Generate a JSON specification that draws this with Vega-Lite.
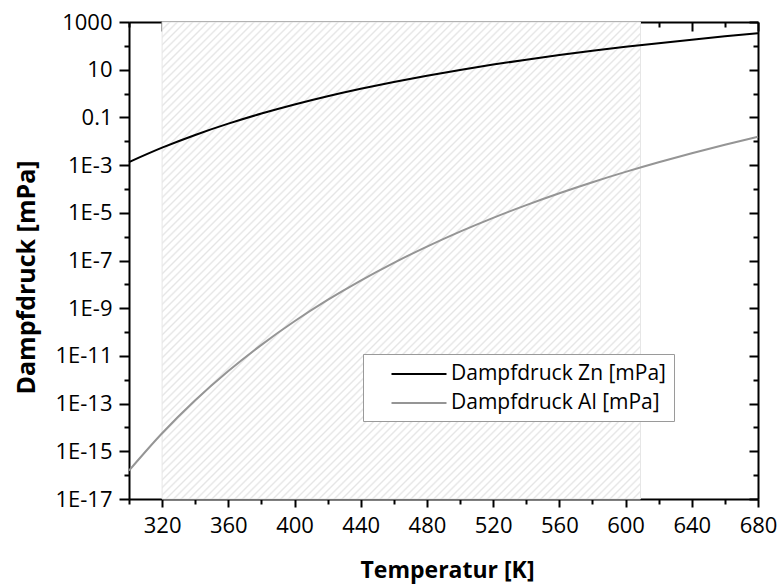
{
"$schema":"https://vega.github.io/schema/vega-lite/v6.json",
"width":629,"height":477,
"autosize":{"type":"none"},
"padding":{"left":129,"top":22,"right":20,"bottom":85},
"background":"white",
"config":{"font":"Open Sans","view":{"stroke":null},
 "axis":{"domainColor":"black","tickColor":"black","labelColor":"black","titleColor":"black","domainWidth":2,"tickWidth":2,"grid":false,"zindex":1,"labelFontSize":22,"titleFontSize":23,"titleFontWeight":"bold","labelFont":"Open Sans","titleFont":"Open Sans","labelFlush":false,"labelOverlap":false},
 "legend":{"orient":"none","legendX":234,"legendY":332,"strokeColor":"#9a9a9a","fillColor":"white","padding":8,"labelFontSize":21,"labelFont":"Open Sans","labelColor":"black","labelLimit":400,"symbolType":"M-2.5,0H2.5","symbolSize":484,"symbolStrokeWidth":2,"symbolOffset":36,"labelOffset":20,"rowPadding":7}
},
"datasets":{
 "region":[{"t1":320,"t2":609,"p1":1e-17,"p2":1000}],
 "curves":[
  {"T":300,"p":0.00134,"s":"Dampfdruck Zn [mPa]"},
  {"T":320,"p":0.005383,"s":"Dampfdruck Zn [mPa]"},
  {"T":340,"p":0.01837,"s":"Dampfdruck Zn [mPa]"},
  {"T":360,"p":0.05458,"s":"Dampfdruck Zn [mPa]"},
  {"T":380,"p":0.1449,"s":"Dampfdruck Zn [mPa]"},
  {"T":400,"p":0.3487,"s":"Dampfdruck Zn [mPa]"},
  {"T":420,"p":0.7727,"s":"Dampfdruck Zn [mPa]"},
  {"T":440,"p":1.589,"s":"Dampfdruck Zn [mPa]"},
  {"T":460,"p":3.076,"s":"Dampfdruck Zn [mPa]"},
  {"T":480,"p":5.623,"s":"Dampfdruck Zn [mPa]"},
  {"T":500,"p":9.817,"s":"Dampfdruck Zn [mPa]"},
  {"T":520,"p":16.41,"s":"Dampfdruck Zn [mPa]"},
  {"T":540,"p":26.36,"s":"Dampfdruck Zn [mPa]"},
  {"T":560,"p":41.02,"s":"Dampfdruck Zn [mPa]"},
  {"T":580,"p":61.94,"s":"Dampfdruck Zn [mPa]"},
  {"T":600,"p":90.78,"s":"Dampfdruck Zn [mPa]"},
  {"T":620,"p":130.0,"s":"Dampfdruck Zn [mPa]"},
  {"T":640,"p":182.0,"s":"Dampfdruck Zn [mPa]"},
  {"T":660,"p":250.0,"s":"Dampfdruck Zn [mPa]"},
  {"T":680,"p":336.5,"s":"Dampfdruck Zn [mPa]"},
  {"T":300,"p":1.549e-16,"s":"Dampfdruck Al [mPa]"},
  {"T":320,"p":5.70e-15,"s":"Dampfdruck Al [mPa]"},
  {"T":340,"p":1.371e-13,"s":"Dampfdruck Al [mPa]"},
  {"T":360,"p":2.317e-12,"s":"Dampfdruck Al [mPa]"},
  {"T":380,"p":2.911e-11,"s":"Dampfdruck Al [mPa]"},
  {"T":400,"p":2.835e-10,"s":"Dampfdruck Al [mPa]"},
  {"T":420,"p":2.223e-9,"s":"Dampfdruck Al [mPa]"},
  {"T":440,"p":1.445e-8,"s":"Dampfdruck Al [mPa]"},
  {"T":460,"p":8.0e-8,"s":"Dampfdruck Al [mPa]"},
  {"T":480,"p":3.837e-7,"s":"Dampfdruck Al [mPa]"},
  {"T":500,"p":1.622e-6,"s":"Dampfdruck Al [mPa]"},
  {"T":520,"p":6.138e-6,"s":"Dampfdruck Al [mPa]"},
  {"T":540,"p":2.104e-5,"s":"Dampfdruck Al [mPa]"},
  {"T":560,"p":6.607e-5,"s":"Dampfdruck Al [mPa]"},
  {"T":580,"p":1.919e-4,"s":"Dampfdruck Al [mPa]"},
  {"T":600,"p":5.188e-4,"s":"Dampfdruck Al [mPa]"},
  {"T":620,"p":1.315e-3,"s":"Dampfdruck Al [mPa]"},
  {"T":640,"p":3.148e-3,"s":"Dampfdruck Al [mPa]"},
  {"T":660,"p":7.145e-3,"s":"Dampfdruck Al [mPa]"},
  {"T":680,"p":1.545e-2,"s":"Dampfdruck Al [mPa]"}
 ]
},
"layer":[
 {"data":{"name":"region"},
  "mark":{"type":"rect","fill":{"gradient":"linear","x1":0,"y1":0,"x2":1,"y2":1,"stops":[
{"offset":0,"color":"#e5e5e5"},{"offset":0.002,"color":"#fff"},{"offset":0.006,"color":"#fff"},
{"offset":0.008,"color":"#e5e5e5"},{"offset":0.01,"color":"#fff"},{"offset":0.014,"color":"#fff"},
{"offset":0.016,"color":"#e5e5e5"},{"offset":0.018,"color":"#fff"},{"offset":0.022,"color":"#fff"},
{"offset":0.024,"color":"#e5e5e5"},{"offset":0.026,"color":"#fff"},{"offset":0.03,"color":"#fff"},
{"offset":0.032,"color":"#e5e5e5"},{"offset":0.034,"color":"#fff"},{"offset":0.038,"color":"#fff"},
{"offset":0.04,"color":"#e5e5e5"},{"offset":0.042,"color":"#fff"},{"offset":0.046,"color":"#fff"},
{"offset":0.048,"color":"#e5e5e5"},{"offset":0.05,"color":"#fff"},{"offset":0.054,"color":"#fff"},
{"offset":0.056,"color":"#e5e5e5"},{"offset":0.058,"color":"#fff"},{"offset":0.062,"color":"#fff"},
{"offset":0.064,"color":"#e5e5e5"},{"offset":0.066,"color":"#fff"},{"offset":0.07,"color":"#fff"},
{"offset":0.072,"color":"#e5e5e5"},{"offset":0.074,"color":"#fff"},{"offset":0.078,"color":"#fff"},
{"offset":0.08,"color":"#e5e5e5"},{"offset":0.082,"color":"#fff"},{"offset":0.086,"color":"#fff"},
{"offset":0.088,"color":"#e5e5e5"},{"offset":0.09,"color":"#fff"},{"offset":0.094,"color":"#fff"},
{"offset":0.096,"color":"#e5e5e5"},{"offset":0.098,"color":"#fff"},{"offset":0.102,"color":"#fff"},
{"offset":0.104,"color":"#e5e5e5"},{"offset":0.106,"color":"#fff"},{"offset":0.11,"color":"#fff"},
{"offset":0.112,"color":"#e5e5e5"},{"offset":0.114,"color":"#fff"},{"offset":0.118,"color":"#fff"},
{"offset":0.12,"color":"#e5e5e5"},{"offset":0.122,"color":"#fff"},{"offset":0.126,"color":"#fff"},
{"offset":0.128,"color":"#e5e5e5"},{"offset":0.13,"color":"#fff"},{"offset":0.134,"color":"#fff"},
{"offset":0.136,"color":"#e5e5e5"},{"offset":0.138,"color":"#fff"},{"offset":0.142,"color":"#fff"},
{"offset":0.144,"color":"#e5e5e5"},{"offset":0.146,"color":"#fff"},{"offset":0.15,"color":"#fff"},
{"offset":0.152,"color":"#e5e5e5"},{"offset":0.154,"color":"#fff"},{"offset":0.158,"color":"#fff"},
{"offset":0.16,"color":"#e5e5e5"},{"offset":0.162,"color":"#fff"},{"offset":0.166,"color":"#fff"},
{"offset":0.168,"color":"#e5e5e5"},{"offset":0.17,"color":"#fff"},{"offset":0.174,"color":"#fff"},
{"offset":0.176,"color":"#e5e5e5"},{"offset":0.178,"color":"#fff"},{"offset":0.182,"color":"#fff"},
{"offset":0.184,"color":"#e5e5e5"},{"offset":0.186,"color":"#fff"},{"offset":0.19,"color":"#fff"},
{"offset":0.192,"color":"#e5e5e5"},{"offset":0.194,"color":"#fff"},{"offset":0.198,"color":"#fff"},
{"offset":0.2,"color":"#e5e5e5"},{"offset":0.202,"color":"#fff"},{"offset":0.206,"color":"#fff"},
{"offset":0.208,"color":"#e5e5e5"},{"offset":0.21,"color":"#fff"},{"offset":0.214,"color":"#fff"},
{"offset":0.216,"color":"#e5e5e5"},{"offset":0.218,"color":"#fff"},{"offset":0.222,"color":"#fff"},
{"offset":0.224,"color":"#e5e5e5"},{"offset":0.226,"color":"#fff"},{"offset":0.23,"color":"#fff"},
{"offset":0.232,"color":"#e5e5e5"},{"offset":0.234,"color":"#fff"},{"offset":0.238,"color":"#fff"},
{"offset":0.24,"color":"#e5e5e5"},{"offset":0.242,"color":"#fff"},{"offset":0.246,"color":"#fff"},
{"offset":0.248,"color":"#e5e5e5"},{"offset":0.25,"color":"#fff"},{"offset":0.254,"color":"#fff"},
{"offset":0.256,"color":"#e5e5e5"},{"offset":0.258,"color":"#fff"},{"offset":0.262,"color":"#fff"},
{"offset":0.264,"color":"#e5e5e5"},{"offset":0.266,"color":"#fff"},{"offset":0.27,"color":"#fff"},
{"offset":0.272,"color":"#e5e5e5"},{"offset":0.274,"color":"#fff"},{"offset":0.278,"color":"#fff"},
{"offset":0.28,"color":"#e5e5e5"},{"offset":0.282,"color":"#fff"},{"offset":0.286,"color":"#fff"},
{"offset":0.288,"color":"#e5e5e5"},{"offset":0.29,"color":"#fff"},{"offset":0.294,"color":"#fff"},
{"offset":0.296,"color":"#e5e5e5"},{"offset":0.298,"color":"#fff"},{"offset":0.302,"color":"#fff"},
{"offset":0.304,"color":"#e5e5e5"},{"offset":0.306,"color":"#fff"},{"offset":0.31,"color":"#fff"},
{"offset":0.312,"color":"#e5e5e5"},{"offset":0.314,"color":"#fff"},{"offset":0.318,"color":"#fff"},
{"offset":0.32,"color":"#e5e5e5"},{"offset":0.322,"color":"#fff"},{"offset":0.326,"color":"#fff"},
{"offset":0.328,"color":"#e5e5e5"},{"offset":0.33,"color":"#fff"},{"offset":0.334,"color":"#fff"},
{"offset":0.336,"color":"#e5e5e5"},{"offset":0.338,"color":"#fff"},{"offset":0.342,"color":"#fff"},
{"offset":0.344,"color":"#e5e5e5"},{"offset":0.346,"color":"#fff"},{"offset":0.35,"color":"#fff"},
{"offset":0.352,"color":"#e5e5e5"},{"offset":0.354,"color":"#fff"},{"offset":0.358,"color":"#fff"},
{"offset":0.36,"color":"#e5e5e5"},{"offset":0.362,"color":"#fff"},{"offset":0.366,"color":"#fff"},
{"offset":0.368,"color":"#e5e5e5"},{"offset":0.37,"color":"#fff"},{"offset":0.374,"color":"#fff"},
{"offset":0.376,"color":"#e5e5e5"},{"offset":0.378,"color":"#fff"},{"offset":0.382,"color":"#fff"},
{"offset":0.384,"color":"#e5e5e5"},{"offset":0.386,"color":"#fff"},{"offset":0.39,"color":"#fff"},
{"offset":0.392,"color":"#e5e5e5"},{"offset":0.394,"color":"#fff"},{"offset":0.398,"color":"#fff"},
{"offset":0.4,"color":"#e5e5e5"},{"offset":0.402,"color":"#fff"},{"offset":0.406,"color":"#fff"},
{"offset":0.408,"color":"#e5e5e5"},{"offset":0.41,"color":"#fff"},{"offset":0.414,"color":"#fff"},
{"offset":0.416,"color":"#e5e5e5"},{"offset":0.418,"color":"#fff"},{"offset":0.422,"color":"#fff"},
{"offset":0.424,"color":"#e5e5e5"},{"offset":0.426,"color":"#fff"},{"offset":0.43,"color":"#fff"},
{"offset":0.432,"color":"#e5e5e5"},{"offset":0.434,"color":"#fff"},{"offset":0.438,"color":"#fff"},
{"offset":0.44,"color":"#e5e5e5"},{"offset":0.442,"color":"#fff"},{"offset":0.446,"color":"#fff"},
{"offset":0.448,"color":"#e5e5e5"},{"offset":0.45,"color":"#fff"},{"offset":0.454,"color":"#fff"},
{"offset":0.456,"color":"#e5e5e5"},{"offset":0.458,"color":"#fff"},{"offset":0.462,"color":"#fff"},
{"offset":0.464,"color":"#e5e5e5"},{"offset":0.466,"color":"#fff"},{"offset":0.47,"color":"#fff"},
{"offset":0.472,"color":"#e5e5e5"},{"offset":0.474,"color":"#fff"},{"offset":0.478,"color":"#fff"},
{"offset":0.48,"color":"#e5e5e5"},{"offset":0.482,"color":"#fff"},{"offset":0.486,"color":"#fff"},
{"offset":0.488,"color":"#e5e5e5"},{"offset":0.49,"color":"#fff"},{"offset":0.494,"color":"#fff"},
{"offset":0.496,"color":"#e5e5e5"},{"offset":0.498,"color":"#fff"},{"offset":0.502,"color":"#fff"},
{"offset":0.504,"color":"#e5e5e5"},{"offset":0.506,"color":"#fff"},{"offset":0.51,"color":"#fff"},
{"offset":0.512,"color":"#e5e5e5"},{"offset":0.514,"color":"#fff"},{"offset":0.518,"color":"#fff"},
{"offset":0.52,"color":"#e5e5e5"},{"offset":0.522,"color":"#fff"},{"offset":0.526,"color":"#fff"},
{"offset":0.528,"color":"#e5e5e5"},{"offset":0.53,"color":"#fff"},{"offset":0.534,"color":"#fff"},
{"offset":0.536,"color":"#e5e5e5"},{"offset":0.538,"color":"#fff"},{"offset":0.542,"color":"#fff"},
{"offset":0.544,"color":"#e5e5e5"},{"offset":0.546,"color":"#fff"},{"offset":0.55,"color":"#fff"},
{"offset":0.552,"color":"#e5e5e5"},{"offset":0.554,"color":"#fff"},{"offset":0.558,"color":"#fff"},
{"offset":0.56,"color":"#e5e5e5"},{"offset":0.562,"color":"#fff"},{"offset":0.566,"color":"#fff"},
{"offset":0.568,"color":"#e5e5e5"},{"offset":0.57,"color":"#fff"},{"offset":0.574,"color":"#fff"},
{"offset":0.576,"color":"#e5e5e5"},{"offset":0.578,"color":"#fff"},{"offset":0.582,"color":"#fff"},
{"offset":0.584,"color":"#e5e5e5"},{"offset":0.586,"color":"#fff"},{"offset":0.59,"color":"#fff"},
{"offset":0.592,"color":"#e5e5e5"},{"offset":0.594,"color":"#fff"},{"offset":0.598,"color":"#fff"},
{"offset":0.6,"color":"#e5e5e5"},{"offset":0.602,"color":"#fff"},{"offset":0.606,"color":"#fff"},
{"offset":0.608,"color":"#e5e5e5"},{"offset":0.61,"color":"#fff"},{"offset":0.614,"color":"#fff"},
{"offset":0.616,"color":"#e5e5e5"},{"offset":0.618,"color":"#fff"},{"offset":0.622,"color":"#fff"},
{"offset":0.624,"color":"#e5e5e5"},{"offset":0.626,"color":"#fff"},{"offset":0.63,"color":"#fff"},
{"offset":0.632,"color":"#e5e5e5"},{"offset":0.634,"color":"#fff"},{"offset":0.638,"color":"#fff"},
{"offset":0.64,"color":"#e5e5e5"},{"offset":0.642,"color":"#fff"},{"offset":0.646,"color":"#fff"},
{"offset":0.648,"color":"#e5e5e5"},{"offset":0.65,"color":"#fff"},{"offset":0.654,"color":"#fff"},
{"offset":0.656,"color":"#e5e5e5"},{"offset":0.658,"color":"#fff"},{"offset":0.662,"color":"#fff"},
{"offset":0.664,"color":"#e5e5e5"},{"offset":0.666,"color":"#fff"},{"offset":0.67,"color":"#fff"},
{"offset":0.672,"color":"#e5e5e5"},{"offset":0.674,"color":"#fff"},{"offset":0.678,"color":"#fff"},
{"offset":0.68,"color":"#e5e5e5"},{"offset":0.682,"color":"#fff"},{"offset":0.686,"color":"#fff"},
{"offset":0.688,"color":"#e5e5e5"},{"offset":0.69,"color":"#fff"},{"offset":0.694,"color":"#fff"},
{"offset":0.696,"color":"#e5e5e5"},{"offset":0.698,"color":"#fff"},{"offset":0.702,"color":"#fff"},
{"offset":0.704,"color":"#e5e5e5"},{"offset":0.706,"color":"#fff"},{"offset":0.71,"color":"#fff"},
{"offset":0.712,"color":"#e5e5e5"},{"offset":0.714,"color":"#fff"},{"offset":0.718,"color":"#fff"},
{"offset":0.72,"color":"#e5e5e5"},{"offset":0.722,"color":"#fff"},{"offset":0.726,"color":"#fff"},
{"offset":0.728,"color":"#e5e5e5"},{"offset":0.73,"color":"#fff"},{"offset":0.734,"color":"#fff"},
{"offset":0.736,"color":"#e5e5e5"},{"offset":0.738,"color":"#fff"},{"offset":0.742,"color":"#fff"},
{"offset":0.744,"color":"#e5e5e5"},{"offset":0.746,"color":"#fff"},{"offset":0.75,"color":"#fff"},
{"offset":0.752,"color":"#e5e5e5"},{"offset":0.754,"color":"#fff"},{"offset":0.758,"color":"#fff"},
{"offset":0.76,"color":"#e5e5e5"},{"offset":0.762,"color":"#fff"},{"offset":0.766,"color":"#fff"},
{"offset":0.768,"color":"#e5e5e5"},{"offset":0.77,"color":"#fff"},{"offset":0.774,"color":"#fff"},
{"offset":0.776,"color":"#e5e5e5"},{"offset":0.778,"color":"#fff"},{"offset":0.782,"color":"#fff"},
{"offset":0.784,"color":"#e5e5e5"},{"offset":0.786,"color":"#fff"},{"offset":0.79,"color":"#fff"},
{"offset":0.792,"color":"#e5e5e5"},{"offset":0.794,"color":"#fff"},{"offset":0.798,"color":"#fff"},
{"offset":0.8,"color":"#e5e5e5"},{"offset":0.802,"color":"#fff"},{"offset":0.806,"color":"#fff"},
{"offset":0.808,"color":"#e5e5e5"},{"offset":0.81,"color":"#fff"},{"offset":0.814,"color":"#fff"},
{"offset":0.816,"color":"#e5e5e5"},{"offset":0.818,"color":"#fff"},{"offset":0.822,"color":"#fff"},
{"offset":0.824,"color":"#e5e5e5"},{"offset":0.826,"color":"#fff"},{"offset":0.83,"color":"#fff"},
{"offset":0.832,"color":"#e5e5e5"},{"offset":0.834,"color":"#fff"},{"offset":0.838,"color":"#fff"},
{"offset":0.84,"color":"#e5e5e5"},{"offset":0.842,"color":"#fff"},{"offset":0.846,"color":"#fff"},
{"offset":0.848,"color":"#e5e5e5"},{"offset":0.85,"color":"#fff"},{"offset":0.854,"color":"#fff"},
{"offset":0.856,"color":"#e5e5e5"},{"offset":0.858,"color":"#fff"},{"offset":0.862,"color":"#fff"},
{"offset":0.864,"color":"#e5e5e5"},{"offset":0.866,"color":"#fff"},{"offset":0.87,"color":"#fff"},
{"offset":0.872,"color":"#e5e5e5"},{"offset":0.874,"color":"#fff"},{"offset":0.878,"color":"#fff"},
{"offset":0.88,"color":"#e5e5e5"},{"offset":0.882,"color":"#fff"},{"offset":0.886,"color":"#fff"},
{"offset":0.888,"color":"#e5e5e5"},{"offset":0.89,"color":"#fff"},{"offset":0.894,"color":"#fff"},
{"offset":0.896,"color":"#e5e5e5"},{"offset":0.898,"color":"#fff"},{"offset":0.902,"color":"#fff"},
{"offset":0.904,"color":"#e5e5e5"},{"offset":0.906,"color":"#fff"},{"offset":0.91,"color":"#fff"},
{"offset":0.912,"color":"#e5e5e5"},{"offset":0.914,"color":"#fff"},{"offset":0.918,"color":"#fff"},
{"offset":0.92,"color":"#e5e5e5"},{"offset":0.922,"color":"#fff"},{"offset":0.926,"color":"#fff"},
{"offset":0.928,"color":"#e5e5e5"},{"offset":0.93,"color":"#fff"},{"offset":0.934,"color":"#fff"},
{"offset":0.936,"color":"#e5e5e5"},{"offset":0.938,"color":"#fff"},{"offset":0.942,"color":"#fff"},
{"offset":0.944,"color":"#e5e5e5"},{"offset":0.946,"color":"#fff"},{"offset":0.95,"color":"#fff"},
{"offset":0.952,"color":"#e5e5e5"},{"offset":0.954,"color":"#fff"},{"offset":0.958,"color":"#fff"},
{"offset":0.96,"color":"#e5e5e5"},{"offset":0.962,"color":"#fff"},{"offset":0.966,"color":"#fff"},
{"offset":0.968,"color":"#e5e5e5"},{"offset":0.97,"color":"#fff"},{"offset":0.974,"color":"#fff"},
{"offset":0.976,"color":"#e5e5e5"},{"offset":0.978,"color":"#fff"},{"offset":0.982,"color":"#fff"},
{"offset":0.984,"color":"#e5e5e5"},{"offset":0.986,"color":"#fff"},{"offset":0.99,"color":"#fff"},
{"offset":0.992,"color":"#e5e5e5"},{"offset":0.994,"color":"#fff"},{"offset":0.998,"color":"#fff"},
{"offset":1,"color":"#e5e5e5"}
  ]}},
  "encoding":{
   "x":{"field":"t1","type":"quantitative","scale":{"domain":[300,680],"nice":false,"zero":false},
    "axis":{"orient":"bottom","values":[320,360,400,440,480,520,560,600,640,680],"tickSize":8,"labelPadding":8,"title":"Temperatur [K]","titleY":78,"titleBaseline":"alphabetic","titleX":318}},
   "x2":{"field":"t2"},
   "y":{"field":"p1","type":"quantitative","scale":{"type":"log","domain":[1e-17,1000],"nice":false},
    "axis":{"orient":"left","values":[1000,10,0.1,0.001,1e-5,1e-7,1e-9,1e-11,1e-13,1e-15,1e-17],"tickSize":10,"labelPadding":7,
     "labelExpr":"datum.value >= 1 ? format(datum.value, 'd') : datum.value > 0.05 ? '0.1' : '1E' + round(log(datum.value) / LN10)",
     "title":"Dampfdruck [mPa]","titleFontSize":25,"titleX":-103,"titleY":255,"titleBaseline":"middle","titleAngle":270}},
   "y2":{"field":"p2"}
  }},
 {"data":{"name":"region"},
  "mark":{"type":"rect","fill":null,"fillOpacity":0,"stroke":"#e6e6e6","strokeWidth":1},
  "encoding":{
   "x":{"field":"t1","type":"quantitative","scale":{"domain":[300,680],"nice":false,"zero":false},
    "axis":{"orient":"bottom","values":[300,340,380,420,460,500,540,580,620,660],"tickSize":5,"labels":false,"domain":false,"title":null}},
   "x2":{"field":"t2"},
   "y":{"field":"p1","type":"quantitative","scale":{"type":"log","domain":[1e-17,1000],"nice":false},
    "axis":{"orient":"left","values":[100,1,0.01,1e-4,1e-6,1e-8,1e-10,1e-12,1e-14,1e-16],"tickSize":5,"labels":false,"domain":false,"title":null}},
   "y2":{"field":"p2"}
  }},
 {"data":{"name":"curves"},
  "transform":[{"filter":"datum.s === 'Dampfdruck Zn [mPa]'"}],
  "mark":{"type":"line","strokeWidth":2,"interpolate":"monotone"},
  "encoding":{
   "x":{"field":"T","type":"quantitative","scale":{"domain":[300,680],"nice":false,"zero":false},
    "axis":{"orient":"top","values":[320,360,400,440,480,520,560,600,640,680],"tickSize":-9,"labels":false,"title":null}},
   "y":{"field":"p","type":"quantitative","scale":{"type":"log","domain":[1e-17,1000],"nice":false},
    "axis":{"orient":"right","values":[1000,10,0.1,0.001,1e-5,1e-7,1e-9,1e-11,1e-13,1e-15,1e-17],"tickSize":-9,"labels":false,"title":null}},
   "color":{"field":"s","type":"nominal","scale":{"domain":["Dampfdruck Zn [mPa]","Dampfdruck Al [mPa]"],"range":["#000000","#959595"]},"legend":{"title":null}}
  }},
 {"data":{"name":"curves"},
  "transform":[{"filter":"datum.s === 'Dampfdruck Al [mPa]'"}],
  "mark":{"type":"line","strokeWidth":2,"interpolate":"monotone"},
  "encoding":{
   "x":{"field":"T","type":"quantitative","scale":{"domain":[300,680],"nice":false,"zero":false},
    "axis":{"orient":"top","values":[300,340,380,420,460,500,540,580,620,660],"tickSize":-5,"labels":false,"domain":false,"title":null}},
   "y":{"field":"p","type":"quantitative","scale":{"type":"log","domain":[1e-17,1000],"nice":false},
    "axis":{"orient":"right","values":[100,1,0.01,1e-4,1e-6,1e-8,1e-10,1e-12,1e-14,1e-16],"tickSize":-5,"labels":false,"domain":false,"title":null}},
   "color":{"field":"s","type":"nominal","scale":{"domain":["Dampfdruck Zn [mPa]","Dampfdruck Al [mPa]"],"range":["#000000","#959595"]},"legend":{"title":null}}
  }}
],
"resolve":{"axis":{"x":"independent","y":"independent"}}
}
